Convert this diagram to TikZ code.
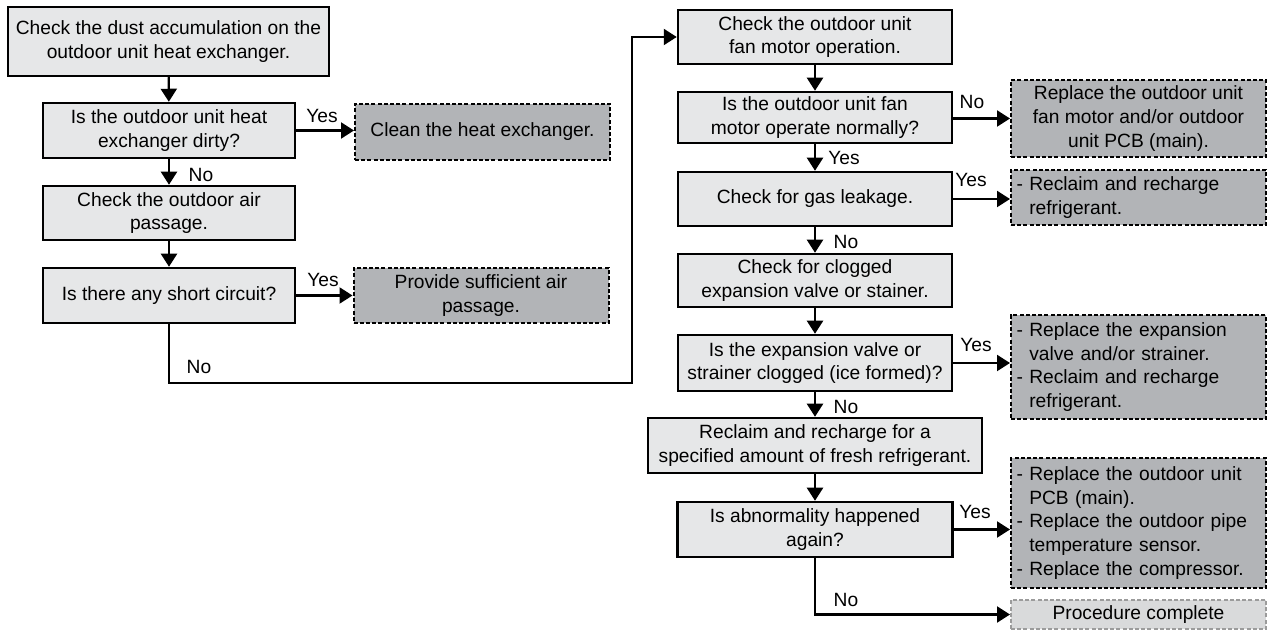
\documentclass[tikz,border=0pt]{standalone}
\usepackage{fontspec}
\setmainfont{Liberation Sans}
\usepackage{tikz}
\usetikzlibrary{arrows.meta,positioning}
\definecolor{stepgray}{HTML}{E6E7E8}
\definecolor{actgray}{HTML}{B2B4B7}
\definecolor{endgray}{HTML}{D9DADB}
\definecolor{endline}{HTML}{9B9B9B}

\begin{document}
\begin{tikzpicture}[
  x=0.5pt, y=-0.5pt,
  every node/.style={font=\fontsize{9.6pt}{11.8pt}\selectfont},
  stepB/.style={
    draw=black, line width=1.25pt, fill=stepgray, align=center,
    inner xsep=2pt, inner ysep=1pt,
  },
  actB/.style={
    draw=black, line width=1pt, dash pattern=on 2pt off 1.1pt, fill=actgray,
    inner xsep=2.5pt, inner ysep=1pt, minimum width=127.5pt,
  },
  arr/.style={line width=1.1pt, -{Triangle[length=6.5pt,width=8pt]}},
]
\useasboundingbox (0,0) rectangle (1269,630);

% Left column - heat exchanger and air passage
\node[stepB, minimum width=160.5pt, minimum height=34.5pt] (s1) at (168.5,41.5) {Check the dust accumulation on the\\outdoor unit heat exchanger.};
\node[stepB, minimum width=126pt, minimum height=27.5pt] (s2) at (169,130.5) {Is the outdoor unit heat\\exchanger dirty?};
\node[stepB, minimum width=126pt, minimum height=27pt] (s3) at (169,213) {Check the outdoor air\\passage.};
\node[stepB, minimum width=126pt, minimum height=27.5pt] (s4) at (169,295.5) {Is there any short circuit?};

\node[actB, align=center, minimum height=28pt] (a1) at (482.5,132) {Clean the heat exchanger.};
\node[actB, align=center, minimum height=27.5pt] (a2) at (481,295.5) {Provide sufficient air\\passage.};

% Right column - fan motor and refrigerant
\node[stepB, minimum width=137pt, minimum height=27pt] (s5) at (815,37) {Check the outdoor unit\\fan motor operation.};
\node[stepB, minimum width=137pt, minimum height=25.5pt] (s6) at (815,117.5) {Is the outdoor unit fan\\motor operate normally?};
\node[stepB, minimum width=137pt, minimum height=27pt] (s7) at (815,199) {Check for gas leakage.};
\node[stepB, minimum width=137pt, minimum height=26.5pt] (s8) at (815,280.5) {Check for clogged\\expansion valve or stainer.};
\node[stepB, minimum width=137pt, minimum height=28pt] (s9) at (815,363) {Is the expansion valve or\\strainer clogged (ice formed)?};
\node[stepB, minimum width=167pt, minimum height=27.5pt] (s10) at (815,445.5) {Reclaim and recharge for a\\specified amount of fresh refrigerant.};
\node[stepB, minimum width=137.5pt, minimum height=27.5pt] (s11) at (815,529.5) {Is abnormality happened\\again?};

\node[actB, align=center, minimum height=38.5pt] (a3) at (1138.5,118.5) {Replace the outdoor unit\\fan motor and/or outdoor\\unit PCB (main).};
\node[actB, text width=122pt, align=left, minimum height=27.5pt] (a4) at (1138.5,197.5) {- Reclaim and recharge\\\hphantom{- }refrigerant.};
\node[actB, text width=122pt, align=left, minimum height=52pt] (a5) at (1138.5,367) {- Replace the expansion\\\hphantom{- }valve and/or strainer.\\- Reclaim and recharge\\\hphantom{- }refrigerant.};
\node[actB, text width=122pt, align=left, minimum height=65pt] (a6) at (1138.5,523) {- Replace the outdoor unit\\\hphantom{- }PCB (main).\\- Replace the outdoor pipe\\\hphantom{- }temperature sensor.\\- Replace the compressor.};
\node[actB, draw=endline, fill=endgray, align=center, minimum height=14.5pt] (done) at (1138.5,614.5) {Procedure complete};

% Connectors
\draw[arr] (s1) -- (s2);
\draw[arr] (s2.east) -- (s2.east -| a1.west);
\node (y1) at (322,116) {Yes};
\draw[arr] (s2) -- (s3);
\node (n1) at (201,175) {No};
\draw[arr] (s3) -- (s4);
\draw[arr] (s4.east) -- (s4.east -| a2.west);
\node (y2) at (323,280) {Yes};

\coordinate (turn) at (632,383);
\draw[arr] (s4.south) |- (turn) |- (s5.west);
\node (n2) at (199,367) {No};

\draw[arr] (s5) -- (s6);
\draw[arr] (s6.east |- a3.west) -- (a3.west);
\node (n3) at (972,102) {No};
\draw[arr] (s6) -- (s7);
\node (y3) at (844,158) {Yes};
\draw[arr] (s7.east) -- (s7.east -| a4.west);
\node (y4) at (971,180) {Yes};
\draw[arr] (s7) -- (s8);
\node (n4) at (846,242) {No};
\draw[arr] (s8) -- (s9);
\draw[arr] (s9.east) -- (s9.east -| a5.west);
\node (y5) at (976,345) {Yes};
\draw[arr] (s9) -- (s10);
\node (n5) at (846,407) {No};
\draw[arr] (s10) -- (s11);
\draw[arr] (s11.east) -- (s11.east -| a6.west);
\node (y6) at (975,512) {Yes};
\draw[arr] (s11.south) |- (done.west);
\node (n6) at (846,600) {No};

\end{tikzpicture}
\end{document}
